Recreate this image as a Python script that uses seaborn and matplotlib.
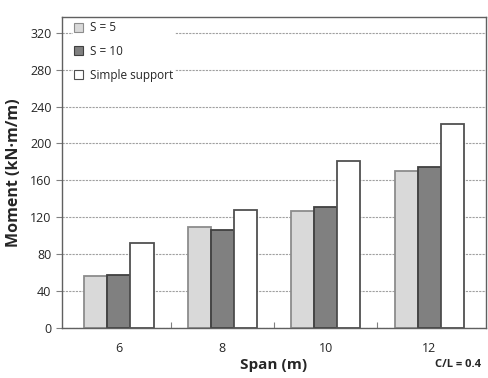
import matplotlib
matplotlib.use("Agg")
import matplotlib.pyplot as plt
import seaborn as sns
import pandas as pd

spans = ["6", "8", "10", "12"]
series = ["S = 5", "S = 10", "Simple support"]
s5 = [56, 109, 127, 170]
s10 = [58, 106, 131, 175]
simple = [92, 128, 181, 221]
yticks = [0, 40, 80, 120, 160, 200, 240, 280, 320]

rows = []
for name, vals in zip(series, [s5, s10, simple]):
    for sp, v in zip(spans, vals):
        rows.append({"Span": sp, "Series": name, "Moment": v})
df = pd.DataFrame(rows)

sns.set_style("white")
plt.rcParams['font.family'] = ['Open Sans', 'DejaVu Sans']

fig = plt.figure(figsize=(4.88, 3.78), dpi=100)
ax = fig.add_axes([0.127, 0.132, 0.869, 0.823])

face = {"S = 5": "#d9d9d9", "S = 10": "#808080", "Simple support": "#ffffff"}
edge = {"S = 5": "#8c8c8c", "S = 10": "#404040", "Simple support": "#505050"}

sns.barplot(data=df, x="Span", y="Moment", hue="Series", order=spans,
            hue_order=series, palette=face, width=0.67, gap=0,
            ax=ax, legend=False, zorder=3)

for i, cont in enumerate(ax.containers):
    name = series[i]
    for bar in cont:
        bar.set_edgecolor(edge[name])
        bar.set_linewidth(1.3)
        bar.set_zorder(3)

ax.set_ylim(0, 337)
ax.set_xlim(-0.55, 3.55)
ax.set_yticks(yticks)
ax.set_yticklabels([str(t) for t in yticks], fontsize=9)
ax.tick_params(axis='x', labelsize=9, length=0, pad=10)
ax.tick_params(axis='y', length=4, width=0.8, color="#808080", direction='out', left=True)
ax.set_xticks([0.5, 1.5, 2.5], minor=True)
ax.tick_params(axis='x', which='minor', length=4, width=0.8, color="#808080", direction='in', bottom=True)

ax.yaxis.grid(True, linestyle=(0, (2, 1)), color="#a0a0a0", linewidth=0.8, zorder=0)
ax.set_axisbelow(True)
for sp in ax.spines.values():
    sp.set_color("#606060")
    sp.set_linewidth(1.0)
    sp.set_visible(True)
    sp.set_zorder(4)

ax.set_xlabel("Span (m)", fontsize=11, fontweight='bold', labelpad=2)
ax.set_ylabel("Moment (kN·m/m)", fontsize=11.5, fontweight='bold', labelpad=6)

from matplotlib.patches import Patch
handles = [Patch(facecolor=face[n], edgecolor=edge[n], linewidth=0.8) for n in series]
leg = ax.legend(handles, series, loc='upper left', bbox_to_anchor=(0.025, 0.99),
                frameon=True, fontsize=8.5, handlelength=0.8, handleheight=0.8,
                handletextpad=0.6, labelspacing=0.9, borderpad=0.1,
                borderaxespad=0.0)
leg.get_frame().set_facecolor("white")
leg.get_frame().set_edgecolor("none")
leg.get_frame().set_alpha(1)
leg.set_zorder(2)

fig.text(0.985, 0.02, "C/L = 0.4", ha='right', va='bottom', fontsize=8, fontweight='bold')

fig.savefig("out.png", dpi=100)
